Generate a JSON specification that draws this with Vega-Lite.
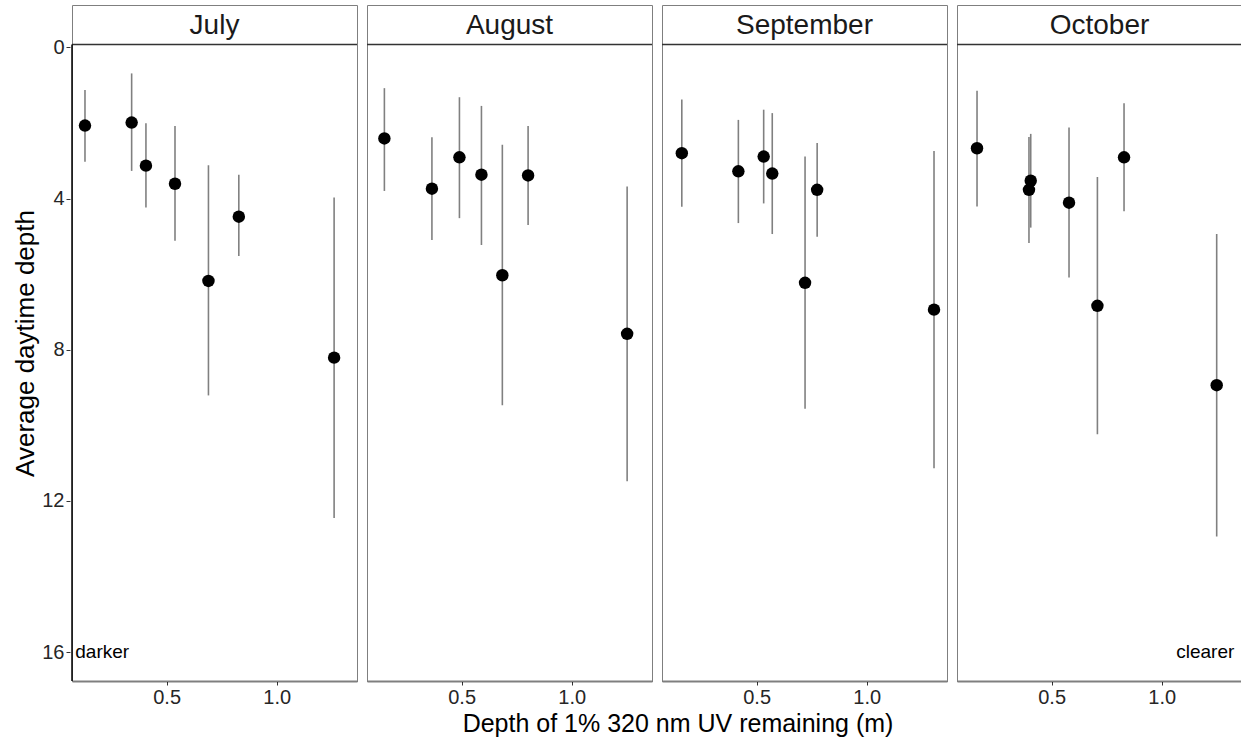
{
  "$schema": "https://vega.github.io/schema/vega-lite/v6.json",
  "padding": {"left": 12, "top": 4, "right": 0, "bottom": 0},
  "background": "white",
  "data": {"values": [
    {"month": "July", "uv": 0.129, "depth": 2.07, "lo": 1.13, "hi": 3.03},
    {"month": "July", "uv": 0.341, "depth": 1.99, "lo": 0.69, "hi": 3.27},
    {"month": "July", "uv": 0.406, "depth": 3.13, "lo": 2.01, "hi": 4.24},
    {"month": "July", "uv": 0.538, "depth": 3.61, "lo": 2.08, "hi": 5.12},
    {"month": "July", "uv": 0.690, "depth": 6.18, "lo": 3.12, "hi": 9.21},
    {"month": "July", "uv": 0.828, "depth": 4.48, "lo": 3.37, "hi": 5.52},
    {"month": "July", "uv": 1.261, "depth": 8.21, "lo": 3.97, "hi": 12.45},
    {"month": "August", "uv": 0.149, "depth": 2.41, "lo": 1.08, "hi": 3.80},
    {"month": "August", "uv": 0.365, "depth": 3.74, "lo": 2.38, "hi": 5.10},
    {"month": "August", "uv": 0.490, "depth": 2.91, "lo": 1.32, "hi": 4.52},
    {"month": "August", "uv": 0.590, "depth": 3.37, "lo": 1.55, "hi": 5.23},
    {"month": "August", "uv": 0.685, "depth": 6.03, "lo": 2.58, "hi": 9.47},
    {"month": "August", "uv": 0.802, "depth": 3.39, "lo": 2.08, "hi": 4.70},
    {"month": "August", "uv": 1.252, "depth": 7.58, "lo": 3.68, "hi": 11.48},
    {"month": "September", "uv": 0.160, "depth": 2.80, "lo": 1.38, "hi": 4.22},
    {"month": "September", "uv": 0.417, "depth": 3.28, "lo": 1.92, "hi": 4.65},
    {"month": "September", "uv": 0.532, "depth": 2.89, "lo": 1.65, "hi": 4.13},
    {"month": "September", "uv": 0.571, "depth": 3.34, "lo": 1.74, "hi": 4.94},
    {"month": "September", "uv": 0.720, "depth": 6.23, "lo": 2.89, "hi": 9.56},
    {"month": "September", "uv": 0.775, "depth": 3.77, "lo": 2.53, "hi": 5.01},
    {"month": "September", "uv": 1.306, "depth": 6.94, "lo": 2.74, "hi": 11.14},
    {"month": "October", "uv": 0.161, "depth": 2.67, "lo": 1.15, "hi": 4.21},
    {"month": "October", "uv": 0.397, "depth": 3.77, "lo": 2.37, "hi": 5.18},
    {"month": "October", "uv": 0.405, "depth": 3.53, "lo": 2.29, "hi": 4.77},
    {"month": "October", "uv": 0.579, "depth": 4.11, "lo": 2.12, "hi": 6.09},
    {"month": "October", "uv": 0.708, "depth": 6.84, "lo": 3.43, "hi": 10.24},
    {"month": "October", "uv": 0.829, "depth": 2.91, "lo": 1.48, "hi": 4.34},
    {"month": "October", "uv": 1.250, "depth": 8.94, "lo": 4.94, "hi": 12.94}
  ]},
  "title": {
    "text": "Depth of 1% 320 nm UV remaining (m)",
    "orient": "bottom",
    "anchor": "middle",
    "fontSize": 25,
    "fontWeight": "normal",
    "font": "Liberation Sans",
    "color": "black",
    "offset": 5,
    "dx": 50
  },
  "facet": {
    "column": {
      "field": "month",
      "type": "nominal",
      "sort": ["July", "August", "September", "October"],
      "header": {"title": null, "labels": false}
    }
  },
  "spacing": 6,
  "spec": {
    "width": 285,
    "height": 676,
    "encoding": {
      "x": {
        "type": "quantitative",
        "scale": {"domain": [0.07, 1.365], "nice": false, "zero": false},
        "axis": {"values": [0.5, 1.0], "format": ".1f", "title": null, "offset": -2}
      },
      "y": {
        "type": "quantitative",
        "scale": {"domain": [-1.12, 16.766], "nice": false, "zero": false, "reverse": true},
        "axis": {"values": [0, 4, 8, 12, 16], "title": "Average daytime depth", "domain": false, "titleFontSize": 26}
      }
    },
    "layer": [
      {
        "mark": {"type": "rule", "color": "#333333", "strokeWidth": 1.5},
        "transform": [{"aggregate": [{"op": "count", "as": "n"}], "groupby": ["month"]}],
        "encoding": {
          "x": {"datum": 0.07},
          "x2": {"datum": 1.365},
          "y": {"datum": -0.076}
        }
      },
      {
        "mark": {"type": "text", "fontSize": 28, "font": "Liberation Sans", "color": "#1a1a1a", "baseline": "middle", "align": "center", "dy": 1},
        "transform": [{"aggregate": [{"op": "count", "as": "n"}], "groupby": ["month"]}],
        "encoding": {
          "x": {"datum": 0.7175},
          "y": {"datum": -0.6},
          "text": {"field": "month"}
        }
      },
      {
        "mark": {"type": "rule", "color": "black", "strokeWidth": 1.5},
        "transform": [{"filter": "datum.month === 'July'"}, {"aggregate": [{"op": "count", "as": "n"}], "groupby": ["month"]}],
        "encoding": {
          "x": {"datum": 0.07},
          "y": {"datum": -0.076},
          "y2": {"datum": 16.766}
        }
      },
      {
        "mark": {"type": "rule", "color": "#808080", "strokeWidth": 1.6},
        "encoding": {
          "x": {"field": "uv"},
          "y": {"field": "lo"},
          "y2": {"field": "hi"}
        }
      },
      {
        "mark": {"type": "circle", "size": 155, "color": "black", "opacity": 1},
        "encoding": {
          "x": {"field": "uv"},
          "y": {"field": "depth"}
        }
      },
      {
        "mark": {"type": "text", "fontSize": 19, "font": "Liberation Sans", "color": "black", "align": "left", "baseline": "middle"},
        "transform": [{"filter": "datum.month === 'July'"}, {"aggregate": [{"op": "count", "as": "n"}], "groupby": ["month"]}],
        "encoding": {
          "x": {"datum": 0.085},
          "y": {"datum": 16},
          "text": {"value": "darker"}
        }
      },
      {
        "mark": {"type": "text", "fontSize": 19, "font": "Liberation Sans", "color": "black", "align": "right", "baseline": "middle"},
        "transform": [{"filter": "datum.month === 'October'"}, {"aggregate": [{"op": "count", "as": "n"}], "groupby": ["month"]}],
        "encoding": {
          "x": {"datum": 1.33},
          "y": {"datum": 16},
          "text": {"value": "clearer"}
        }
      }
    ]
  },
  "config": {
    "font": "Liberation Sans",
    "view": {"stroke": "#7f7f7f", "strokeWidth": 1},
    "axis": {
      "grid": false,
      "labelFont": "Liberation Sans",
      "labelFontSize": 20,
      "labelColor": "#262626",
      "titleFont": "Liberation Sans",
      "titleFontSize": 25,
      "titleFontWeight": "normal",
      "titleColor": "black",
      "tickColor": "#333333",
      "tickSize": 4,
      "tickWidth": 1,
      "labelPadding": 2,
      "titlePadding": 3,
      "domainColor": "black",
      "domainWidth": 1.5
    }
  }
}
